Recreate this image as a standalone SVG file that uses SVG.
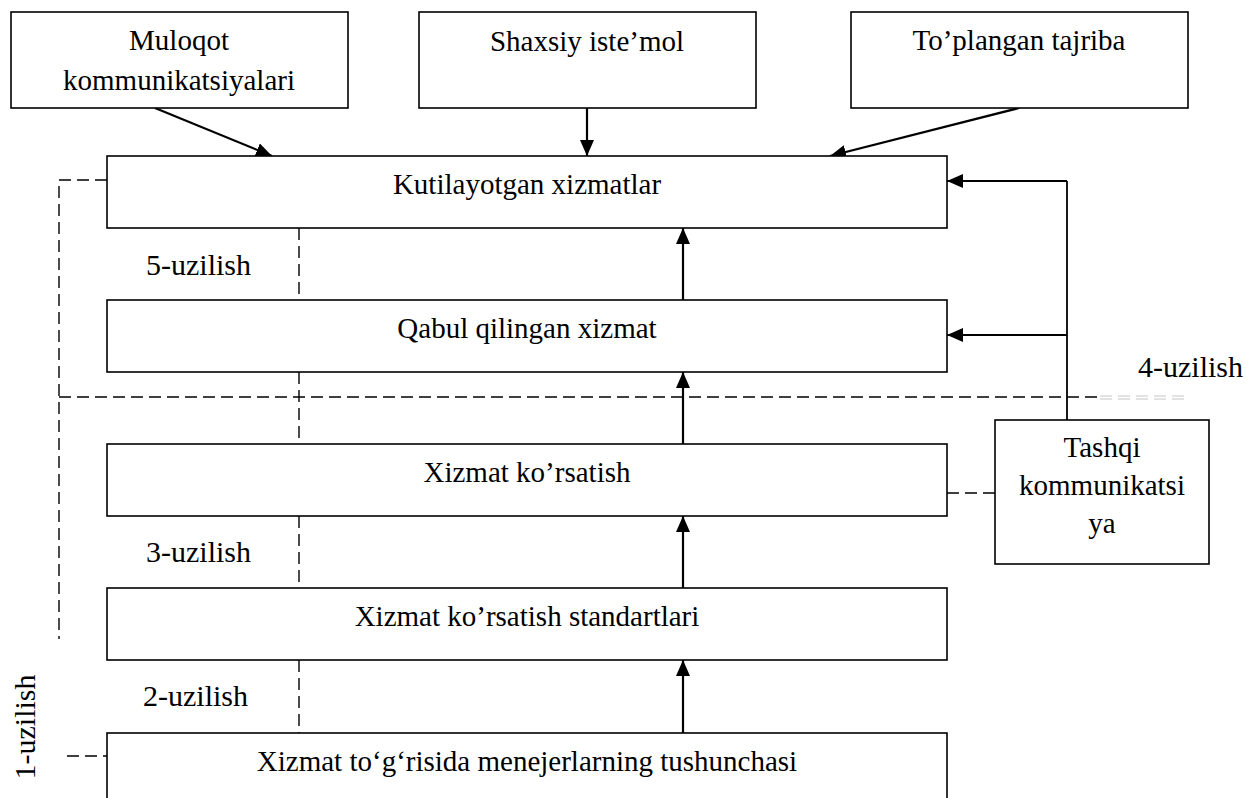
<svg xmlns="http://www.w3.org/2000/svg" width="1252" height="798" viewBox="0 0 1252 798">
<style>
  .box { fill: #ffffff; stroke: #000000; stroke-width: 1.6; }
  .t { font-family: "Liberation Serif", "Times New Roman", serif; font-size: 29px; fill: #000000; text-anchor: middle; }
  .lbl { font-family: "Liberation Serif", "Times New Roman", serif; font-size: 30px; fill: #000000; }
  .arr { fill: none; stroke: #000000; stroke-width: 2.2; marker-end: url(#ah); }
  .sol { fill: none; stroke: #000000; stroke-width: 1.8; }
  .dash { fill: none; stroke: #000000; stroke-width: 1.4; stroke-dasharray: 12 6; }
  .gray { fill: none; stroke: #c4c4c4; stroke-width: 1; stroke-dasharray: 12 6; }
</style>
<defs>
  <marker id="ah" markerUnits="userSpaceOnUse" markerWidth="16" markerHeight="14" refX="16" refY="7" orient="auto">
    <path d="M0,0 L16,7 L0,14 Z" fill="#000000"/>
  </marker>
</defs>
<rect width="1252" height="798" fill="#ffffff"/>

<g id="connectors">
  <line class="arr" x1="155" y1="108" x2="272" y2="156"/>
  <line class="arr" x1="587" y1="108" x2="587" y2="156"/>
  <line class="arr" x1="1019" y1="108" x2="830" y2="156"/>
  <line class="arr" x1="683" y1="300" x2="683" y2="228"/>
  <line class="arr" x1="683" y1="444" x2="683" y2="372"/>
  <line class="arr" x1="683" y1="588" x2="683" y2="516"/>
  <line class="arr" x1="683" y1="733" x2="683" y2="660"/>
  <line class="sol" x1="1067" y1="420" x2="1067" y2="181"/>
  <line class="arr" x1="1067" y1="181" x2="947" y2="181"/>
  <line class="arr" x1="1067" y1="335" x2="947" y2="335"/>
  <line class="dash" x1="947" y1="493" x2="995" y2="493"/>
  <polyline class="dash" points="107,180 59,180 59,639"/>
  <line class="dash" x1="59" y1="397" x2="1097" y2="397"/>
  <line class="gray" x1="1100" y1="396" x2="1188" y2="396"/>
  <line class="gray" x1="1100" y1="399" x2="1188" y2="399"/>
  <line class="dash" x1="67" y1="756" x2="107" y2="756"/>
  <line class="dash" x1="299" y1="228" x2="299" y2="300"/>
  <line class="dash" x1="299" y1="372" x2="299" y2="444"/>
  <line class="dash" x1="299" y1="516" x2="299" y2="588"/>
  <line class="dash" x1="299" y1="660" x2="299" y2="733"/>
</g>

<g id="muloqot">
  <rect class="box" x="11" y="12" width="337" height="96"/>
  <text class="t" x="179" y="50">Muloqot</text>
  <text class="t" x="179" y="90">kommunikatsiyalari</text>
</g>
<g id="shaxsiy">
  <rect class="box" x="419" y="12" width="337" height="96"/>
  <text class="t" x="587" y="51">Shaxsiy iste’mol</text>
</g>
<g id="toplangan">
  <rect class="box" x="851" y="12" width="337" height="96"/>
  <text class="t" x="1019" y="50">To’plangan tajriba</text>
</g>
<g id="kutilayotgan">
  <rect class="box" x="107" y="156" width="840" height="72"/>
  <text class="t" x="527" y="194">Kutilayotgan xizmatlar</text>
</g>
<g id="qabul">
  <rect class="box" x="107" y="300" width="840" height="72"/>
  <text class="t" x="527" y="338">Qabul qilingan xizmat</text>
</g>
<g id="xizmat">
  <rect class="box" x="107" y="444" width="840" height="72"/>
  <text class="t" x="527" y="482">Xizmat ko’rsatish</text>
</g>
<g id="standartlar">
  <rect class="box" x="107" y="588" width="840" height="72"/>
  <text class="t" x="527" y="626">Xizmat ko’rsatish standartlari</text>
</g>
<g id="tushuncha">
  <rect class="box" x="107" y="733" width="840" height="80"/>
  <text class="t" x="527" y="771">Xizmat to‘g‘risida menejerlarning tushunchasi</text>
</g>
<g id="tashqi">
  <rect class="box" x="995" y="420" width="214" height="144"/>
  <text class="t" x="1102" y="457">Tashqi</text>
  <text class="t" x="1102" y="495">kommunikatsi</text>
  <text class="t" x="1102" y="533">ya</text>
</g>

<g id="labels">
  <text class="lbl" x="146" y="275">5-uzilish</text>
  <text class="lbl" x="1138" y="377">4-uzilish</text>
  <text class="lbl" x="146" y="562">3-uzilish</text>
  <text class="lbl" x="143" y="706">2-uzilish</text>
  <text class="lbl" text-anchor="middle" transform="translate(35,727) rotate(-90)">1-uzilish</text>
</g>
</svg>
